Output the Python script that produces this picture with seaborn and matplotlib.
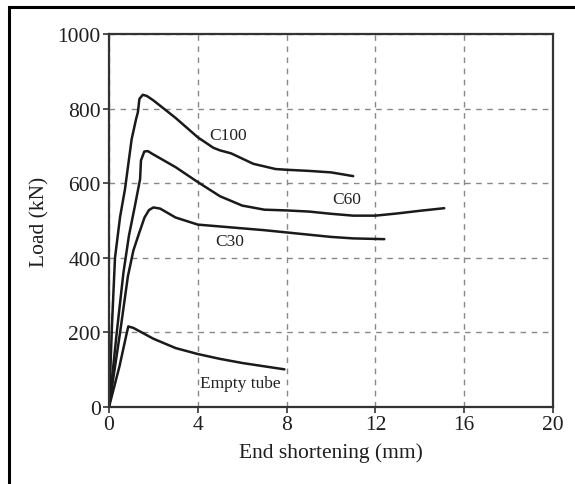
import numpy as np
import pandas as pd
import matplotlib
matplotlib.use("Agg")
import matplotlib.pyplot as plt
import seaborn as sns
from matplotlib.patches import Rectangle

# Data
c100_x = [0, 0.14, 0.27, 0.5, 0.72, 1.02, 1.22, 1.3, 1.37, 1.52, 1.7, 2.0, 3.0, 4.0, 4.7, 5.0, 5.5, 6.5, 7.5, 8.0, 9.0, 10.0, 11.0]
c100_y = [0, 228, 400, 510, 584, 718, 772, 790, 826, 837, 834, 822, 775, 723, 695, 688, 680, 652, 638, 636, 633, 629, 619]

c60_x = [0, 0.35, 0.65, 0.9, 1.17, 1.4, 1.44, 1.59, 1.75, 2.0, 3.0, 4.0, 5.0, 6.0, 7.0, 8.0, 9.0, 10.0, 11.0, 12.0, 13.0, 14.0, 15.1]
c60_y = [0, 200, 360, 460, 540, 611, 661, 685, 686, 677, 643, 603, 565, 540, 529, 527, 524, 518, 513, 513, 519, 526, 533]

c30_x = [0, 0.5, 0.85, 1.1, 1.35, 1.6, 1.8, 2.0, 2.3, 3.0, 4.0, 5.0, 6.0, 7.0, 8.0, 9.0, 10.0, 11.0, 12.4]
c30_y = [0, 200, 350, 420, 465, 508, 528, 535, 532, 508, 489, 484, 479, 474, 468, 462, 456, 452, 450]

empty_x = [0, 0.48, 0.78, 0.87, 1.1, 2.0, 3.0, 4.0, 5.0, 6.0, 7.0, 7.9]
empty_y = [0, 111, 193, 216, 212, 183, 158, 142, 129, 118, 109, 101]

series_names = ["C100", "C60", "C30", "Empty tube"]
label_pos_x = [5.35, 10.7, 5.45, 5.9]
label_pos_y = [729, 558, 446, 65]

x_ticks = [0, 4, 8, 12, 16, 20]
y_ticks = [0, 200, 400, 600, 800, 1000]

frames = []
for name, xs, ys in zip(series_names, [c100_x, c60_x, c30_x, empty_x], [c100_y, c60_y, c30_y, empty_y]):
    frames.append(pd.DataFrame({"x": xs, "y": ys, "series": name}))
df = pd.concat(frames, ignore_index=True)

sns.set_theme(style="white")
plt.rcParams["font.family"] = ["Liberation Serif", "DejaVu Serif"]

fig = plt.figure(figsize=(5.75, 4.85), dpi=100)
ax = fig.add_axes([109 / 575, 1 - 408 / 485, 444 / 575, 373 / 485])

sns.lineplot(data=df, x="x", y="y", units="series", estimator=None, sort=False,
             color="#1a1a1a", linewidth=1.8, ax=ax, legend=False)

ax.set_xlim(0, 20)
ax.set_ylim(0, 1000)
ax.set_xticks(x_ticks)
ax.set_yticks(y_ticks)
ax.set_xticklabels([str(t) for t in x_ticks])
ax.set_yticklabels([str(t) for t in y_ticks])
ax.grid(True, color="#888888", linestyle=(0, (4, 4)), linewidth=1.0)
ax.set_axisbelow(True)
for sp in ax.spines.values():
    sp.set_visible(True)
    sp.set_color("#333333")
    sp.set_linewidth(1.6)
ax.tick_params(axis="both", direction="out", length=4, width=1.2, color="#333333",
               labelsize=15.5, labelcolor="#1e1e1e", pad=2, bottom=True, left=True)
ax.set_xlabel("End shortening (mm)", fontsize=15.5, color="#1e1e1e", labelpad=6)
ax.set_ylabel("Load (kN)", fontsize=15.5, color="#1e1e1e", labelpad=6)

for name, lx, ly in zip(series_names, label_pos_x, label_pos_y):
    ax.text(lx, ly, name, ha="center", va="center", fontsize=12.5, color="#222222")

# Outer frame (left and top edges visible in the reference)
fig.patches.append(Rectangle((8.5 / 575, -0.05), 1.2, 1 - 7.5 / 485 + 0.05,
                             transform=fig.transFigure, fill=False,
                             edgecolor="black", linewidth=2.2))

fig.savefig("out.png", dpi=100)
